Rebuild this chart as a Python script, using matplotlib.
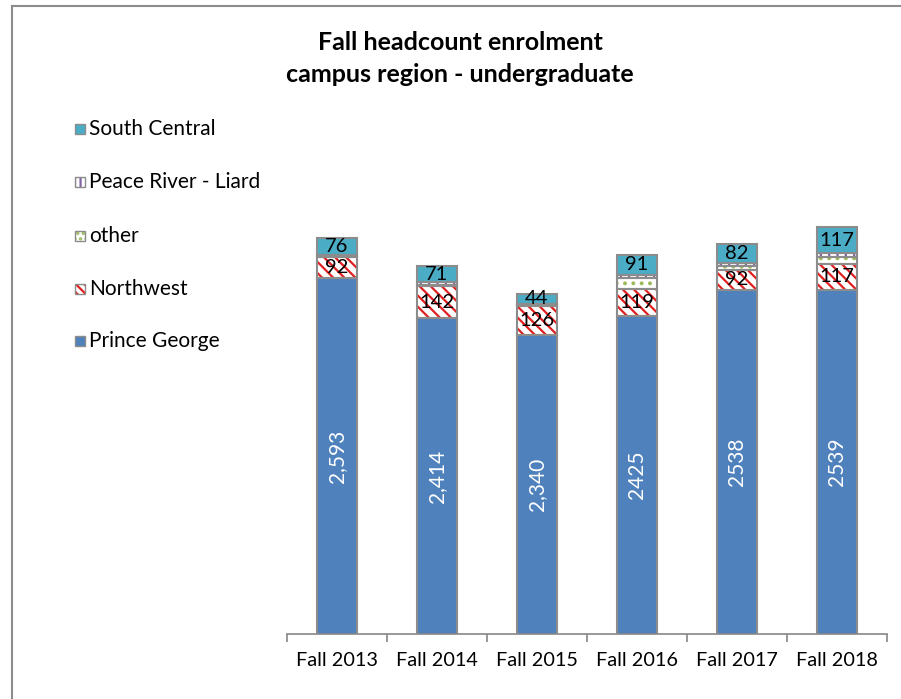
import matplotlib
matplotlib.use("Agg")
import matplotlib.pyplot as plt
from matplotlib.patches import Rectangle
from matplotlib.lines import Line2D
import numpy as np

plt.rcParams['font.family'] = ['Lato', 'DejaVu Sans']
plt.rcParams['hatch.linewidth'] = 1.6

categories = ["Fall 2013", "Fall 2014", "Fall 2015", "Fall 2016", "Fall 2017", "Fall 2018"]
prince_george = [2593, 2414, 2340, 2425, 2538, 2539]
northwest = [92, 142, 126, 119, 92, 117]
other = [6, 6, 6, 47, 15, 33]
peace_river = [4, 12, 5, 15, 16, 15]
south_central = [76, 71, 44, 91, 82, 117]
pg_labels = ["2,593", "2,414", "2,340", "2425", "2538", "2539"]
nw_labels = ["92", "142", "126", "119", "92", "117"]
sc_labels = ["76", "71", "44", "91", "82", "117"]

W, H = 901, 699
fig = plt.figure(figsize=(W/100, H/100), dpi=100)

def fx(px): return px / W
def fy(py): return 1 - py / H

ax = fig.add_axes([fx(287), fy(634), fx(887) - fx(287), fy(187) - fy(634)])
ax.set_xlim(-0.5, 5.5)
ax.set_ylim(1000, 3000)

x = np.arange(len(categories))
bw = 0.4
edge = "#8c8c8c"

series = [
    (prince_george, "#4F81BD", "#4F81BD", None),
    (northwest, "white", "#E02020", "\\\\\\"),
    (other, "white", "#9BBB59", ".."),
    (peace_river, "white", "#8064A2", "||"),
    (south_central, "#4BACC6", "#4BACC6", None),
]
bottom = np.zeros(len(categories))
bottoms = []
for vals, fc, hc, hatch in series:
    vals = np.array(vals, dtype=float)
    bottoms.append(bottom.copy())
    ax.bar(x, vals, bw, bottom=bottom, color=fc, edgecolor=hc, linewidth=0, hatch=hatch, zorder=2)
    ax.bar(x, vals, bw, bottom=bottom, facecolor="none", edgecolor=edge, linewidth=1.5, zorder=3)
    bottom = bottom + vals

lab_fs = 14.5
for i in range(len(categories)):
    pg = prince_george[i]
    ax.text(x[i], (1000 + pg) / 2, pg_labels[i], rotation=90, ha="center", va="center",
            color="white", fontsize=15, zorder=5)
    nb = bottoms[1][i]
    ax.text(x[i], nb + northwest[i] / 2, nw_labels[i], ha="center", va="center",
            color="black", fontsize=lab_fs, zorder=5)
    sb = bottoms[4][i]
    ax.text(x[i], sb + south_central[i] / 2, sc_labels[i], ha="center", va="center",
            color="black", fontsize=lab_fs, zorder=5)

for s in ["top", "right", "left"]:
    ax.spines[s].set_visible(False)
ax.spines["bottom"].set_color("#868686")
ax.spines["bottom"].set_linewidth(1.2)
ax.set_yticks([])
ax.set_xticks(x)
ax.set_xticklabels(categories, fontsize=14.3)
ax.tick_params(axis="x", which="major", length=0, pad=13)
ax.set_xticks(np.arange(-0.5, 6.0, 1.0), minor=True)
ax.tick_params(axis="x", which="minor", length=6, color="#868686", width=1.2, direction="out")

fig.text(fx(460), fy(42), "Fall headcount enrolment", ha="center", va="center",
         fontsize=18, fontweight="bold")
fig.text(fx(460), fy(75), "campus region - undergraduate", ha="center", va="center",
         fontsize=18, fontweight="bold")

legend_items = [
    ("South Central", "#4BACC6", "#4BACC6", None, 129),
    ("Peace River - Liard", "white", "#8064A2", "|||", 182),
    ("other", "white", "#9BBB59", "...", 236),
    ("Northwest", "white", "#E02020", "\\\\\\\\", 289),
    ("Prince George", "#4F81BD", "#4F81BD", None, 341),
]
for label, fc, hc, hatch, yy in legend_items:
    r = Rectangle((fx(75), fy(yy + 5)), fx(10), fy(0) - fy(10), transform=fig.transFigure,
                  facecolor=fc, edgecolor=hc, linewidth=0, hatch=hatch)
    fig.add_artist(r)
    r2 = Rectangle((fx(75), fy(yy + 5)), fx(10), fy(0) - fy(10), transform=fig.transFigure,
                   facecolor="none", edgecolor=edge, linewidth=1.0)
    fig.add_artist(r2)
    fig.text(fx(89), fy(yy), label, ha="left", va="center", fontsize=15)

fig.add_artist(Line2D([fx(12), fx(12)], [fy(6), 0], transform=fig.transFigure, color="#8c8c8c", linewidth=1.5))
fig.add_artist(Line2D([fx(12), 1], [fy(6), fy(6)], transform=fig.transFigure, color="#8c8c8c", linewidth=1.5))

fig.savefig("out.png", dpi=100)
